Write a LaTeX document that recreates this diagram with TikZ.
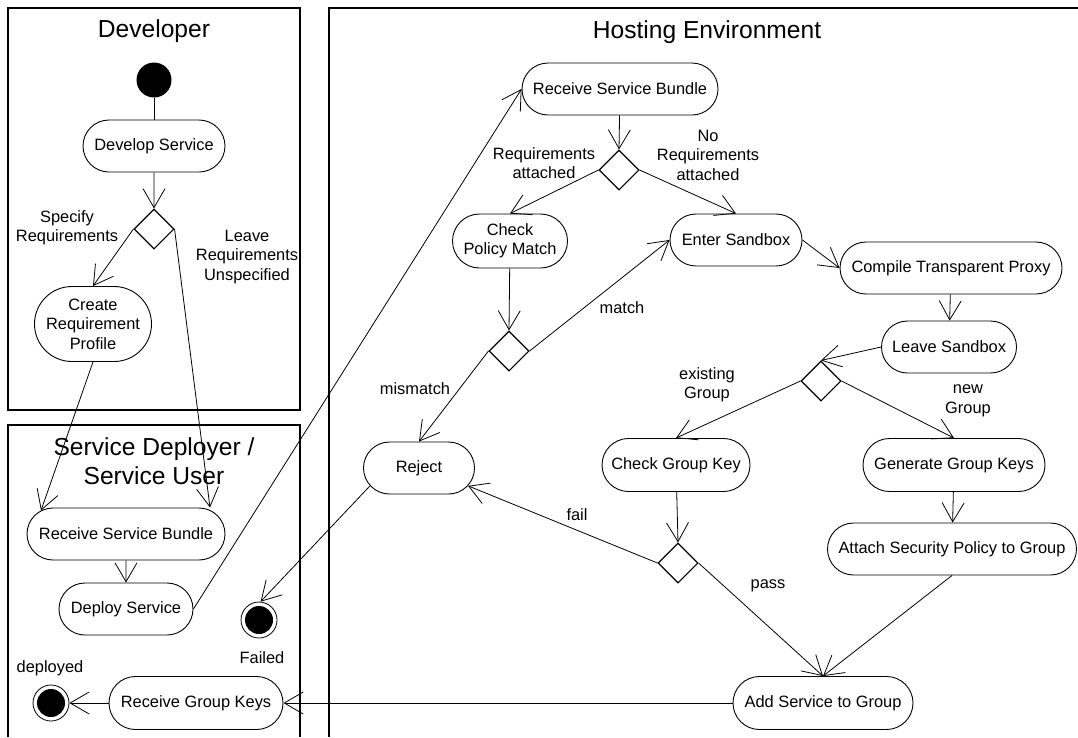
\documentclass[tikz,border=0pt]{standalone}
\usepackage{fontspec}
\setmainfont{Liberation Sans}
\usetikzlibrary{shapes.misc,shapes.geometric,arrows.meta}
\begin{document}
\begin{tikzpicture}[x=1pt,y=-1pt,
 act/.style={rounded rectangle, draw, line width=0.9pt, inner sep=0pt, font=\fontsize{16.4}{19.5}\selectfont, align=center, minimum height=52pt},
 dec/.style={diamond, draw, line width=1.1pt, minimum width=40pt, minimum height=40pt, inner sep=0pt},
 flow/.style={line width=0.8pt, -{Straight Barb[length=19pt,width=22pt]}},
 plain/.style={line width=0.8pt},
 lbl/.style={font=\fontsize{16.4}{19.5}\selectfont, align=center, inner sep=0pt},
 ttl/.style={font=\fontsize{24.6}{29.5}\selectfont, align=center, inner sep=0pt},
 lane/.style={line width=1.5pt},
 startnode/.style={circle, fill=black, minimum size=35pt, inner sep=0pt},
 fin/.style={circle, draw, line width=0.8pt, minimum size=36pt, inner sep=0pt, path picture={\fill (path picture bounding box.center) circle (14pt);}},
 ]
\useasboundingbox (0,0) rectangle (1078,737);
% swimlanes
\draw[lane] (8,8) rectangle (300,410);
\draw[lane] (8,737) -- (8,425) -- (300,425) -- (300,737);
\draw[lane] (1078,8) -- (329,8) -- (329,737);
\node[ttl] (tdev) at (154,31) {Developer};
\node[ttl] (tsd) at (154,461) {Service Deployer /\\Service User};
\node[ttl] (the) at (707,32) {Hosting Environment};
% Developer
\node[startnode] (init) at (154,80) {};
\node[act, minimum width=142pt] (dev) at (154,146) {Develop Service};
\node[dec] (d1) at (154,229) {};
\node[act, minimum width=117pt, minimum height=75pt] (create) at (93,324) {Create\\Requirement\\Profile};
% Service deployer
\node[act, minimum width=198pt] (rsbL) at (126,534) {Receive Service Bundle};
\node[act, minimum width=134pt] (dep) at (126,609) {Deploy Service};
\node[fin] (failed) at (259,620) {};
\node[lbl] (lfailed) at (262,658) {Failed};
\node[act, minimum width=174pt, minimum height=53pt] (rgk) at (196,703) {Receive Group Keys};
\node[fin] (deployed) at (51,703) {};
\node[lbl] (ldeployed) at (50,668) {deployed};
% Hosting environment
\node[act, minimum width=196pt] (rsbR) at (620,89) {Receive Service Bundle};
\node[dec] (d2) at (619,170) {};
\node[act, minimum width=115pt, minimum height=54pt] (cpm) at (510,241) {Check\\Policy Match};
\node[act, minimum width=132pt] (es) at (736,240) {Enter Sandbox};
\node[act, minimum width=222pt] (cmp) at (951,268) {Compile Transparent Proxy};
\node[act, minimum width=135pt] (ls) at (949,347) {Leave Sandbox};
\node[dec] (d3) at (509,351) {};
\node[dec] (d4) at (821,381) {};
\node[act, minimum width=111pt] (rej) at (419,468) {Reject};
\node[act, minimum width=148pt, minimum height=53pt] (cgk) at (676,465) {Check Group Key};
\node[act, minimum width=182pt, minimum height=53pt] (ggk) at (954,465) {Generate Group Keys};
\node[dec] (d5) at (678,563) {};
\node[act, minimum width=249pt] (att) at (952,549) {Attach Security Policy to Group};
\node[act, minimum width=180pt, minimum height=53pt] (asg) at (823,703) {Add Service to Group};
% labels
\node[lbl] (lspec) at (67,228) {Specify\\Requirements};
\node[lbl] (lleave) at (247,257) {Leave\\Requirements\\Unspecified};
\node[lbl] (lreq) at (544,163) {Requirements\\attached};
\node[lbl] (lnoreq) at (708,155) {No\\Requirements\\attached};
\node[lbl] (lmatch) at (622,308) {match};
\node[lbl] (lmis) at (415,389) {mismatch};
\node[lbl] (lexist) at (707,385) {existing\\Group};
\node[lbl] (lnew) at (968,401) {new\\Group};
\node[lbl] (lfail) at (577,515) {fail};
\node[lbl] (lpass) at (768,586) {pass};
% connectors
\draw[plain] (init) -- (dev);
\draw[flow] (dev) -- (d1.north);
\draw[flow] (d1.west) -- (create.north);
\draw[flow] (d1.east) -- ([xshift=84pt]rsbL.north);
\draw[flow] (create.south) -- ([xshift=-85pt,yshift=-3pt]rsbL.north);
\draw[flow] (rsbL) -- (dep);
\draw[flow] (dep.east) -- (rsbR.west);
\draw[flow] (rsbR) -- (d2.north);
\draw[flow] (d2.west) -- (cpm.north);
\draw[flow] (d2.east) -- (es.north);
\draw[flow] (cpm) -- (d3.north);
\draw[flow] (d3.east) -- (es.west);
\draw[flow] (d3.west) -- (rej.north);
\draw[flow] (es.east) -- (cmp.west);
\draw[flow] (cmp) -- (ls);
\draw[flow] (ls.west) -- (d4.north);
\draw[flow] (d4.west) -- (cgk.north);
\draw[flow] (d4.east) -- (ggk.north);
\draw[flow] (cgk) -- (d5.north);
\draw[flow] (d5.west) -- (rej.-20);
\draw[flow] (d5.east) -- (asg.north);
\draw[flow] (ggk) -- (att);
\draw[flow] (att.south) -- (asg.north);
\draw[flow] (asg.west) -- (rgk.east);
\draw[flow] (rgk.west) -- (deployed.east);
\draw[flow] (rej.200) -- (failed.85);
\end{tikzpicture}
\end{document}
